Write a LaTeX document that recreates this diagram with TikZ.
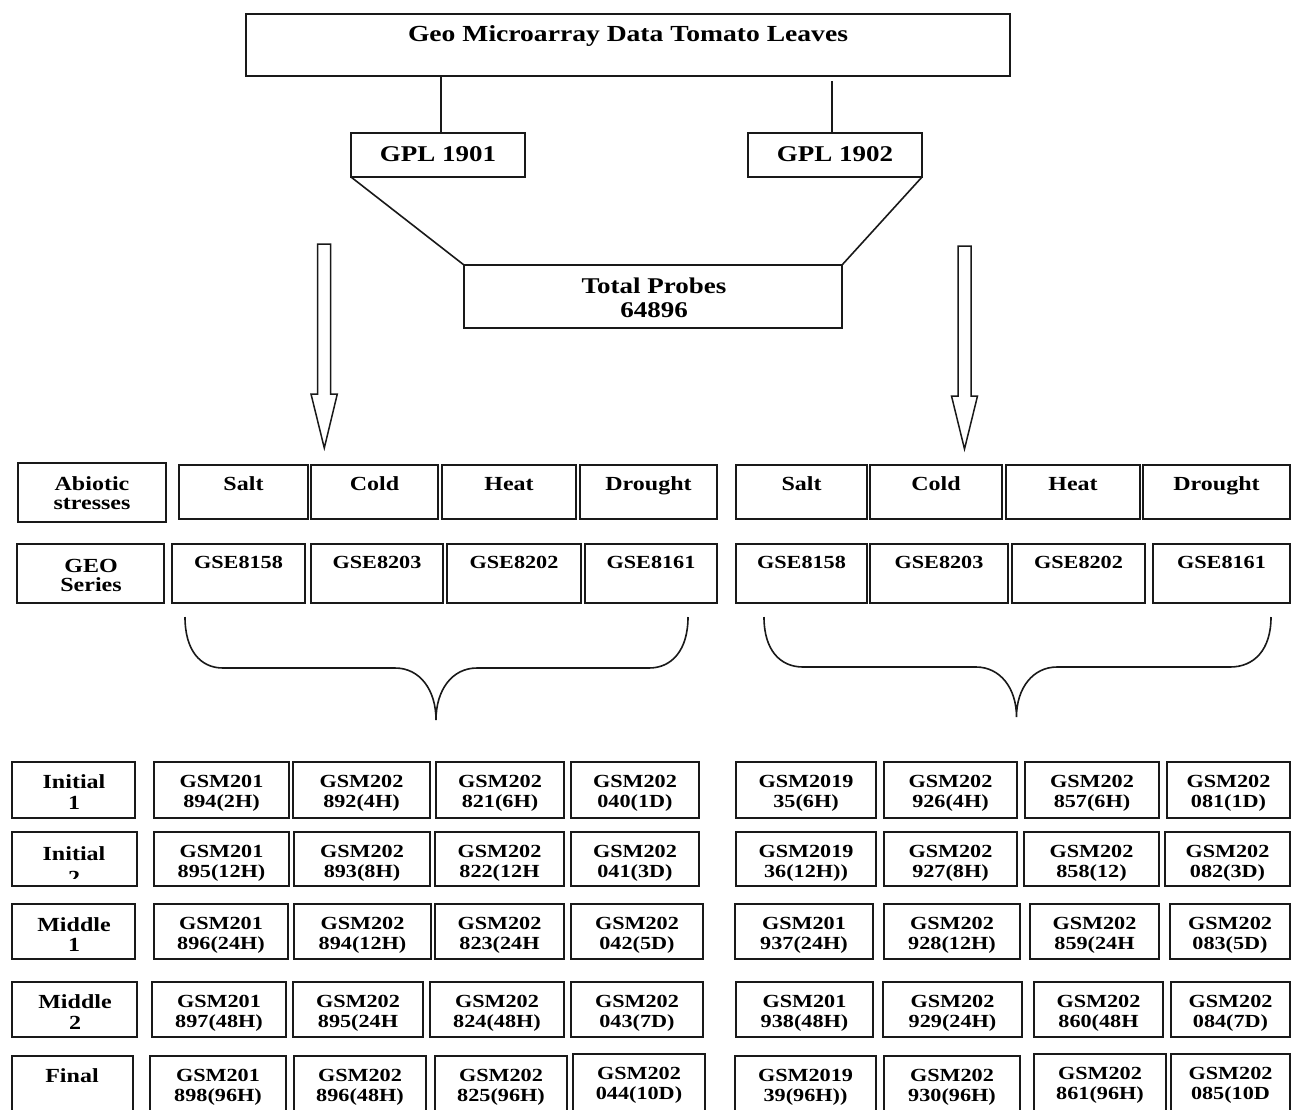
\documentclass[tikz,border=0pt]{standalone}
\usepackage{fontspec}
\setmainfont{Liberation Serif}[FakeStretch=1.2]
\usetikzlibrary{calc}
\newcommand\mkbox[5]{\node[bx, minimum width={(#4)-(#2)}, minimum height={(#5)-(#3)}] (#1) at ({((#2)+(#4))/2},{((#3)+(#5))/2}) {};}
\tikzset{
  bx/.style={draw=black!90, line width=1.6pt, rectangle, inner sep=0pt, outer sep=0pt},
  ln/.style={draw=black!90, line width=1.6pt},
  tt/.style={font=\fontsize{23}{25}\selectfont\bfseries, inner sep=0pt, anchor=base},
  gp/.style={font=\fontsize{22.5}{24}\selectfont\bfseries, inner sep=0pt, anchor=base},
  hd/.style={font=\fontsize{20}{22}\selectfont\bfseries, inner sep=0pt, anchor=base},
  lt/.style={font=\fontsize{20}{22}\selectfont\bfseries, inner sep=0pt, anchor=base},
  gt/.style={font=\fontsize{18.5}{20}\selectfont\bfseries, inner sep=0pt, anchor=base},
}
\begin{document}
\begin{tikzpicture}[x=1pt,y=-1pt]
\clip (0,0) rectangle (1291,1109);
\fill[white] (0,0) rectangle (1291,1109);

% top part
\mkbox{title}{246}{14}{1010}{76}
\node[tt] (titlet) at (628,41) {Geo Microarray Data Tomato Leaves};
\mkbox{gpl1}{351}{133}{525}{177}
\node[gp] (gpl1t) at (438,161) {GPL 1901};
\mkbox{gpl2}{748}{133}{922}{177}
\node[gp] (gpl2t) at (835,161) {GPL 1902};
\mkbox{total}{464}{265}{842}{328}
\node[gp] (totalt) at (654,293) {Total Probes};
\node[gp] (totalu) at (654,317) {64896};

\draw[ln] ([xshift=195]title.south west) -- ([xshift=90]gpl1.north west);
\draw[ln] ([xshift=586,yshift=-5]title.south west) -- ([xshift=84]gpl2.north west);
\draw[ln] (gpl1.south west) -- (total.north west);
\draw[ln] (gpl2.south east) -- (total.north east);

% hollow arrows
\draw[ln, line width=1.5pt, line join=miter] (317.7,244) -- (330.7,244) -- (330.7,394) -- (337.3,394) -- (324.3,448) -- (311,394) -- (317.7,394) -- cycle;
\draw[ln, line width=1.5pt, line join=miter] (958,246) -- (971,246) -- (971,396) -- (977.5,396) -- (964.5,449) -- (951.5,396) -- (958,396) -- cycle;

% stress header row
\mkbox{abio}{18}{463}{166}{522}
\node[lt] (abiot) at (92,490) {Abiotic};
\node[lt] (abiou) at (92,509) {stresses};
\foreach \n/\xa/\xb/\t in {hs1/179/308/Salt, hc1/311/438/Cold, hh1/442/576/Heat, hd1/580/717/Drought,
  hs2/736/867/Salt, hc2/870/1002/Cold, hh2/1006/1140/Heat, hd2/1143/1290/Drought}{
  \mkbox{\n}{\xa}{465}{\xb}{519}
  \node[hd] (\n-t) at ($(\n.north)+(0,25)$) {\t};
}

% GEO series row
\mkbox{geo}{17}{544}{164}{603}
\node[lt] (geot) at (91,572) {GEO};
\node[lt] (geou) at (91,591) {Series};
\foreach \n/\xa/\xb/\t in {e1/172/305/GSE8158, e2/311/443/GSE8203, e3/447/581/GSE8202, e4/585/717/GSE8161,
  e5/736/867/GSE8158, e6/870/1008/GSE8203, e7/1012/1145/GSE8202, e8/1153/1290/GSE8161}{
  \mkbox{\n}{\xa}{544}{\xb}{603}
  \node[gt] (\n-t) at ($(\n.north)+(0,24)$) {\t};
}

% braces
\draw[ln] (185,617) .. controls (185,650) and (200,668) .. (223,668) -- (395,668)
  .. controls (420,668) and (436,690) .. (436,720)
  .. controls (436,690) and (452,668) .. (477,668) -- (649,668)
  .. controls (672,668) and (688,650) .. (688,617);
\draw[ln] (764,617) .. controls (764,650) and (780,667) .. (803,667) -- (976,667)
  .. controls (1000,667) and (1016.5,688) .. (1016.5,717)
  .. controls (1016.5,688) and (1033,667) .. (1057,667) -- (1230,667)
  .. controls (1254,667) and (1271,650) .. (1271,617);

% row labels
\mkbox{lab1}{12}{762}{135}{818}
\node[lt] (lab1t) at (74,788) {Initial};
\node[lt] (lab1u) at (74,809) {1};
\mkbox{lab2}{12}{832}{137}{886}
\node[lt] (lab2t) at (74,860) {Initial};
\begin{scope}
\clip (12,832) rectangle (137,878);
\node[lt] (lab2u) at (74,884) {2};
\end{scope}
\mkbox{lab3}{12}{904}{135}{959}
\node[lt] (lab3t) at (74,931) {Middle};
\node[lt] (lab3u) at (74,951) {1};
\mkbox{lab4}{12}{982}{137}{1037}
\node[lt] (lab4t) at (75,1008) {Middle};
\node[lt] (lab4u) at (75,1029) {2};
\mkbox{lab5}{12}{1056}{133}{1130}
\node[lt] (lab5t) at (72,1082) {Final};

% GSM grid
\foreach \n/\xa/\ya/\xb/\yb/\la/\lb in {
  a1/154/762/289/818/GSM201/894(2H), a2/293/762/430/818/GSM202/892(4H), a3/436/762/564/818/GSM202/821(6H), a4/571/762/699/818/GSM202/040(1D),
  a5/736/762/876/818/GSM2019/35(6H), a6/884/762/1017/818/GSM202/926(4H), a7/1025/762/1159/818/GSM202/857(6H), a8/1167/762/1290/818/GSM202/081(1D),
  b1/154/832/289/886/GSM201/895(12H), b2/294/832/430/886/GSM202/893(8H), b3/435/832/564/886/GSM202/822(12H, b4/571/832/699/886/GSM202/041(3D),
  b5/736/832/876/886/GSM2019/36(12H)), b6/884/832/1017/886/GSM202/927(8H), b7/1024/832/1159/886/GSM202/858(12), b8/1165/832/1290/886/GSM202/082(3D),
  c1/154/904/288/959/GSM201/896(24H), c2/294/904/431/959/GSM202/894(12H), c3/435/904/564/959/GSM202/823(24H, c4/571/904/703/959/GSM202/042(5D),
  c5/735/904/873/959/GSM201/937(24H), c6/884/904/1020/959/GSM202/928(12H), c7/1030/904/1159/959/GSM202/859(24H, c8/1170/904/1290/959/GSM202/083(5D),
  d1/152/982/286/1037/GSM201/897(48H), d2/293/982/423/1037/GSM202/895(24H, d3/430/982/564/1037/GSM202/824(48H), d4/571/982/703/1037/GSM202/043(7D),
  d5/736/982/873/1037/GSM201/938(48H), d6/883/982/1022/1037/GSM202/929(24H), d7/1034/982/1163/1037/GSM202/860(48H, d8/1171/982/1290/1037/GSM202/084(7D),
  f1/150/1056/286/1130/GSM201/898(96H), f2/294/1056/426/1130/GSM202/896(48H), f3/435/1056/567/1130/GSM202/825(96H), f4/573/1054/705/1130/GSM202/044(10D),
  f5/735/1056/876/1130/GSM2019/39(96H)), f6/884/1056/1020/1130/GSM202/930(96H), f7/1034/1054/1166/1130/GSM202/861(96H), f8/1171/1054/1290/1130/GSM202/085(10D}{
  \mkbox{\n}{\xa}{\ya}{\xb}{\yb}
  \node[gt] (\n-t) at ({((\xa)+(\xb))/2},{(\ya)+25}) {\la};
  \node[gt] (\n-u) at ({((\xa)+(\xb))/2},{(\ya)+45}) {\lb};
}
\end{tikzpicture}
\end{document}
